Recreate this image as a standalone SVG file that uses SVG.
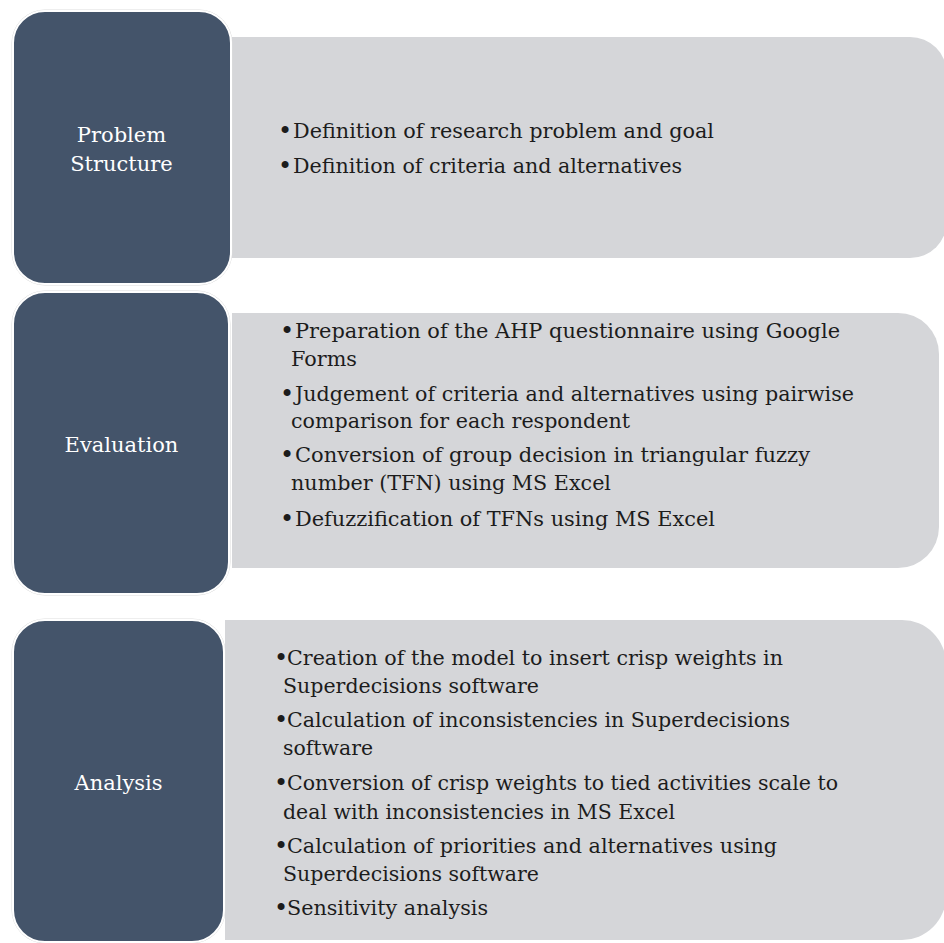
<svg xmlns="http://www.w3.org/2000/svg" width="944" height="943" viewBox="0 0 944 943">
  <style>
    .stage { fill: #44546a; stroke: #ffffff; stroke-width: 2; }
    .halo { fill: none; stroke: #dcdcdc; stroke-width: 1; }
    .panel { fill: #d5d6d9; }
    .label { font-family: "DejaVu Serif", "Liberation Serif", serif; font-size: 21px; fill: #ffffff; text-anchor: middle; }
    .item { font-family: "DejaVu Serif", "Liberation Serif", serif; font-size: 20px; fill: #1c1c1c; }
    .dot { font-family: "DejaVu Serif", "Liberation Serif", serif; font-size: 24px; fill: #1c1c1c; text-anchor: middle; }
  </style>
  <rect width="944" height="943" fill="#ffffff"/>

  <!-- Stage 1: Problem Structure -->
  <g id="problem-structure">
    <path class="panel" d="M232,37 H910 A37,37 0 0 1 947,74 V221 A37,37 0 0 1 910,258 H232 Z"/>
    <rect class="halo" x="12" y="10" width="220" height="275" rx="33"/>
    <rect class="stage" x="13" y="11" width="218" height="273" rx="32"/>
    <text class="label" x="121.5" y="142">Problem</text>
    <text class="label" x="121.5" y="171">Structure</text>
    <text class="dot" x="285" y="139">•</text>
    <text class="item" x="293" y="138" textLength="421" lengthAdjust="spacingAndGlyphs">Definition of research problem and goal</text>
    <text class="dot" x="285" y="174">•</text>
    <text class="item" x="293" y="173" textLength="389" lengthAdjust="spacingAndGlyphs">Definition of criteria and alternatives</text>
  </g>

  <!-- Stage 2: Evaluation -->
  <g id="evaluation">
    <path class="panel" d="M232,313 H898 A41,41 0 0 1 939,354 V527 A41,41 0 0 1 898,568 H232 Z"/>
    <rect class="halo" x="12" y="291" width="218" height="304" rx="33"/>
    <rect class="stage" x="13" y="292" width="216" height="302" rx="32"/>
    <text class="label" x="121.5" y="452">Evaluation</text>
    <text class="dot" x="287" y="339">•</text>
    <text class="item" x="295" y="338" textLength="545" lengthAdjust="spacingAndGlyphs">Preparation of the AHP questionnaire using Google</text>
    <text class="item" x="291" y="366" textLength="66" lengthAdjust="spacingAndGlyphs">Forms</text>
    <text class="dot" x="287" y="402">•</text>
    <text class="item" x="295" y="401" textLength="559" lengthAdjust="spacingAndGlyphs">Judgement of criteria and alternatives using pairwise</text>
    <text class="item" x="291" y="428" textLength="339" lengthAdjust="spacingAndGlyphs">comparison for each respondent</text>
    <text class="dot" x="287" y="463">•</text>
    <text class="item" x="295" y="462" textLength="515" lengthAdjust="spacingAndGlyphs">Conversion of group decision in triangular fuzzy</text>
    <text class="item" x="291" y="490" textLength="320" lengthAdjust="spacingAndGlyphs">number (TFN) using MS Excel</text>
    <text class="dot" x="287" y="527">•</text>
    <text class="item" x="295" y="526" textLength="420" lengthAdjust="spacingAndGlyphs">Defuzzification of TFNs using MS Excel</text>
  </g>

  <!-- Stage 3: Analysis -->
  <g id="analysis">
    <path class="panel" d="M225,620 H902 A44,44 0 0 1 946,664 V896 A44,44 0 0 1 902,940 H225 Z"/>
    <rect class="halo" x="12" y="619" width="213" height="324" rx="33"/>
    <rect class="stage" x="13" y="620" width="211" height="322" rx="32"/>
    <text class="label" x="118.5" y="790">Analysis</text>
    <text class="dot" x="281" y="666">•</text>
    <text class="item" x="287" y="665" textLength="496" lengthAdjust="spacingAndGlyphs">Creation of the model to insert crisp weights in</text>
    <text class="item" x="283" y="693" textLength="256" lengthAdjust="spacingAndGlyphs">Superdecisions software</text>
    <text class="dot" x="281" y="728">•</text>
    <text class="item" x="287" y="727" textLength="503" lengthAdjust="spacingAndGlyphs">Calculation of inconsistencies in Superdecisions</text>
    <text class="item" x="283" y="755" textLength="90" lengthAdjust="spacingAndGlyphs">software</text>
    <text class="dot" x="281" y="791">•</text>
    <text class="item" x="287" y="790" textLength="551" lengthAdjust="spacingAndGlyphs">Conversion of crisp weights to tied activities scale to</text>
    <text class="item" x="283" y="819" textLength="392" lengthAdjust="spacingAndGlyphs">deal with inconsistencies in MS Excel</text>
    <text class="dot" x="281" y="854">•</text>
    <text class="item" x="287" y="853" textLength="490" lengthAdjust="spacingAndGlyphs">Calculation of priorities and alternatives using</text>
    <text class="item" x="283" y="881" textLength="256" lengthAdjust="spacingAndGlyphs">Superdecisions software</text>
    <text class="dot" x="281" y="916">•</text>
    <text class="item" x="287" y="915" textLength="201" lengthAdjust="spacingAndGlyphs">Sensitivity analysis</text>
  </g>

  <!-- No connectors between stages -->
  <g id="connectors"/>
</svg>
